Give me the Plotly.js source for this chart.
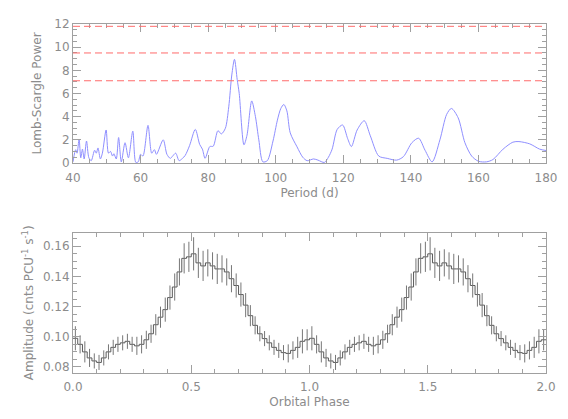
<!DOCTYPE html>
<html>
<head>
<meta charset="utf-8">
<script src="https://cdn.plot.ly/plotly-3.0.1.min.js"></script>
<style>
  html, body { margin: 0; padding: 0; background: #fff; }
  #chart { width: 568px; height: 419px; }
</style>
</head>
<body>
<div id="chart"></div>
<script>
// Lomb-Scargle periodogram
const period = [40.0, 40.5, 40.8, 41.2, 41.8, 42.3, 42.8, 43.3, 44.0, 44.7, 45.4, 46.4, 46.9, 47.4, 48.1, 48.7,
  49.8, 50.5, 51.1, 51.7, 52.1, 52.8, 53.5, 54.3, 55.4, 56.4, 57.7, 58.6, 59.3, 60.0, 60.7, 62.2, 63.3,
  64.1, 64.7, 66.7, 67.8, 68.8, 69.5, 70.4, 71.4, 72.4, 73.2, 74.5, 76.2, 77.5, 78.3, 79.1, 80.5, 81.5,
  82.9, 83.9, 85.1, 86.1, 87.0, 87.8, 88.6, 89.2, 90.6, 91.5, 92.9, 94.0, 95.0, 96.2, 97.5, 99.2, 100.5,
  101.5, 102.4, 103.3, 104.3, 106.3, 108.0, 109.3, 111.2, 112.5, 114.4, 115.6, 116.7, 118.2, 119.8,
  121.3, 122.4, 124.1, 126.2, 128.0, 130.5, 133.0, 135.8, 137.8, 140.3, 142.3, 144.2, 146.3, 148.6,
  150.6, 152.0, 154.0, 156.0, 158.0, 160.0, 162.4, 164.3, 167.3, 170.2, 172.0, 175.2, 178.1, 180.0];
const lsPower = [0.10, 0.9, 1.15, 0.85, 2.05, 0.45, 1.2, 0.35, 1.9, 0.45, 0.2, 1.1, 0.85, 1.3, 0.35, 0.85,
  2.85, 0.85, 1.0, 0.6, 0.8, 0.35, 2.2, 0.1, 1.75, 0.45, 2.75, 0.05, 0.1, 0.75, 0.6, 3.25, 0.85,
  1.15, 0.75, 2.0, 0.75, 0.4, 0.6, 0.85, 0.2, 0.4, 0.65, 1.5, 2.9, 1.6, 1.2, 0.4, 1.42, 1.45,
  2.79, 2.51, 3.0, 4.85, 7.6, 8.95, 7.2, 6.0, 1.57, 2.4, 5.36, 4.0, 2.0, 0.1, 0.2, 1.9, 3.7,
  4.7, 5.05, 4.5, 2.6, 1.4, 0.5, 0.2, 0.35, 0.25, 0.05, 0.5, 1.2, 2.9, 3.28,
  2.1, 1.42, 2.85, 3.65, 2.35, 0.6, 0.4, 0.25, 0.55, 1.75, 2.14, 1.1, 0.1, 2.0,
  4.2, 4.71, 3.9, 1.75, 0.6, 0.15, 0.1, 0.3, 1.2, 1.8, 1.85, 1.65, 1.2, 1.08];
// significance levels (dashed red lines)
const sigLevels = [7.1, 9.5, 11.8];

// folded light curve, 50 phase bins (shown twice)
const nBins = 50;
const amp = [0.099, 0.095, 0.090, 0.086, 0.084, 0.083, 0.086, 0.090, 0.093, 0.095,
  0.096, 0.097, 0.095, 0.094, 0.095, 0.098, 0.102, 0.108, 0.113, 0.118,
  0.126, 0.133, 0.143, 0.152, 0.153, 0.155, 0.149, 0.147, 0.149, 0.147,
  0.145, 0.145, 0.143, 0.1385, 0.134, 0.128, 0.121, 0.114, 0.1076, 0.102,
  0.0988, 0.096, 0.093, 0.091, 0.0895, 0.089, 0.091, 0.093, 0.097, 0.098];
const ampErr = [0.008, 0.006, 0.007, 0.006, 0.005, 0.005, 0.005, 0.005, 0.005, 0.005,
  0.005, 0.005, 0.005, 0.006, 0.006, 0.006, 0.006, 0.007, 0.007, 0.008,
  0.008, 0.009, 0.009, 0.010, 0.010, 0.011, 0.010, 0.010, 0.009, 0.009,
  0.010, 0.009, 0.009, 0.009, 0.008, 0.008, 0.008, 0.007, 0.006, 0.005,
  0.005, 0.005, 0.005, 0.005, 0.005, 0.006, 0.006, 0.007, 0.008, 0.007];

const amp2 = amp.concat(amp);
const err2 = ampErr.concat(ampErr);
const phaseCenters = amp2.map((_, i) => (i + 0.5) / nBins);
const phaseEdges = amp2.map((_, i) => i / nBins).concat([amp2.length / nBins]);

const gray = '#8c8c8c';
const fontFam = 'DejaVu Sans, sans-serif';

const lsTrace = {
    x: period, y: lsPower,
    xaxis: 'x', yaxis: 'y',
    mode: 'lines', type: 'scatter',
    line: { color: '#8f8fff', width: 1, shape: 'spline', smoothing: 0.8 },
    hoverinfo: 'skip'
};

const stepTrace = {
    x: phaseEdges, y: amp2.concat([amp2[amp2.length - 1]]),
    xaxis: 'x2', yaxis: 'y2',
    mode: 'lines', type: 'scatter',
    line: { color: '#5a5a5a', width: 1, shape: 'hv' },
    hoverinfo: 'skip'
};

const errTrace = {
    x: phaseCenters, y: amp2,
    xaxis: 'x2', yaxis: 'y2',
    mode: 'markers', type: 'scatter',
    marker: { size: 1, color: 'rgba(0,0,0,0)' },
    error_y: { type: 'data', array: err2, visible: true, width: 0, thickness: 1, color: '#777' },
    hoverinfo: 'skip'
};

const axisBase = {
    showline: true, mirror: 'ticks', linecolor: '#a0a0a0', linewidth: 1,
    ticks: 'inside', tickcolor: '#a0a0a0', ticklen: 8,
    showgrid: false, zeroline: false,
    tickfont: { family: fontFam, size: 12, color: gray }
};

const layout = {
    width: 568, height: 419,
    margin: { l: 73, r: 22, t: 24, b: 46 },
    paper_bgcolor: '#fff', plot_bgcolor: '#fff',
    showlegend: false,
    xaxis: Object.assign({}, axisBase, {
        domain: [0, 1], anchor: 'y', range: [40, 180], dtick: 20, ticklabelstandoff: 4,
        minor: { dtick: 5, ticks: 'inside', ticklen: 4, tickcolor: '#a0a0a0' },
        title: { text: 'Period (d)', font: { family: fontFam, size: 12, color: gray }, standoff: 4 }
    }),
    yaxis: Object.assign({}, axisBase, {
        domain: [0.6017, 1], anchor: 'x', range: [0, 12], dtick: 2,
        minor: { dtick: 0.5, ticks: 'inside', ticklen: 4, tickcolor: '#a0a0a0' },
        title: { text: 'Lomb-Scargle Power', font: { family: fontFam, size: 12, color: gray }, standoff: 10 }
    }),
    xaxis2: Object.assign({}, axisBase, {
        domain: [0, 1], anchor: 'y2', range: [0, 2], dtick: 0.5, tickformat: '.1f', ticklabelstandoff: 3,
        minor: { dtick: 0.1, ticks: 'inside', ticklen: 4, tickcolor: '#a0a0a0' },
        title: { text: 'Orbital Phase', font: { family: fontFam, size: 12, color: gray }, standoff: 4 }
    }),
    yaxis2: Object.assign({}, axisBase, {
        domain: [0, 0.402], anchor: 'x2', range: [0.076, 0.169], dtick: 0.02, tickformat: '.2f',
        minor: { dtick: 0.005, ticks: 'inside', ticklen: 4, tickcolor: '#a0a0a0' },
        title: { text: 'Amplitude (cnts PCU<sup>-1</sup> s<sup>-1</sup>)', font: { family: fontFam, size: 12, color: gray }, standoff: 6 }
    }),
    shapes: sigLevels.map(v => ({
        type: 'line', xref: 'x', yref: 'y', x0: 40, x1: 180, y0: v, y1: v,
        line: { color: '#ff6b6b', width: 1, dash: '7px,4px' }
    }))
};

Plotly.newPlot('chart', [lsTrace, stepTrace, errTrace], layout, { staticPlot: true });
</script>
</body>
</html>
